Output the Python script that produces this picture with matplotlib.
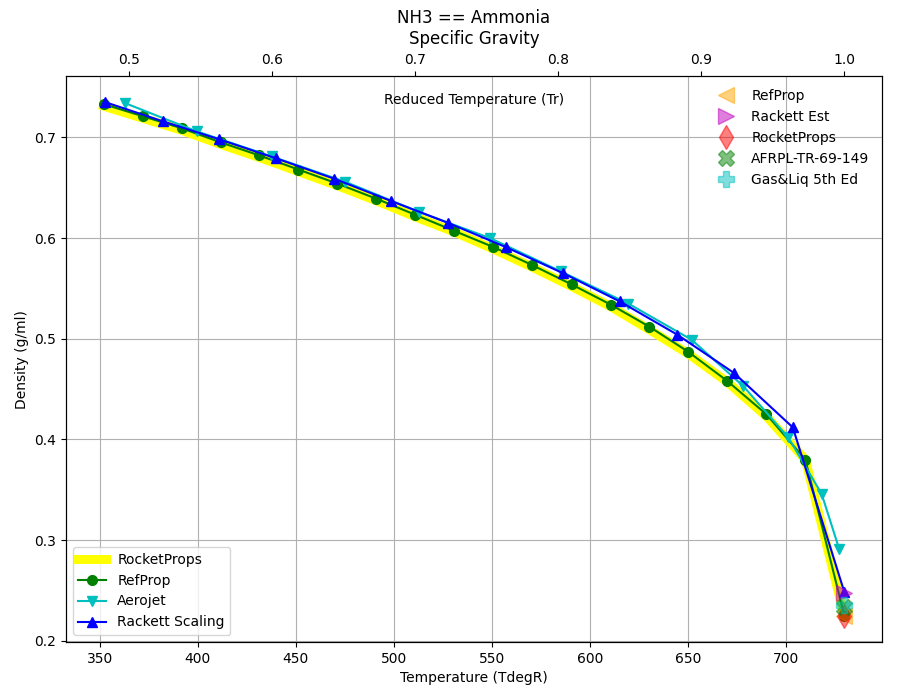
import numpy as np
import matplotlib
matplotlib.use('Agg')
import matplotlib.pyplot as plt
from matplotlib.lines import Line2D

Tc = 729.8  # critical temperature, degR

# RocketProps (thick yellow line)
rp_T = [351.9, 371.8, 391.7, 411.6, 431.4, 451.3, 471.2, 491.1, 511.0, 530.9,
        550.8, 570.7, 590.6, 610.5, 630.3, 650.2, 670.1, 690.0, 709.9, 729.8]
rp_rho = [0.731, 0.719, 0.707, 0.693, 0.680, 0.666, 0.652, 0.637, 0.621, 0.606,
          0.589, 0.571, 0.552, 0.532, 0.509, 0.485, 0.457, 0.423, 0.380, 0.2245]

# RefProp
ref_T = [351.9, 371.8, 391.7, 411.6, 431.4, 451.3, 471.2, 491.1, 511.0, 530.9,
         550.8, 570.7, 590.6, 610.5, 630.3, 650.2, 670.1, 690.0, 709.9, 729.8]
ref_rho = [0.733, 0.721, 0.709, 0.695, 0.682, 0.668, 0.654, 0.639, 0.623, 0.607,
           0.591, 0.573, 0.554, 0.534, 0.512, 0.487, 0.458, 0.425, 0.380, 0.225]

# Aerojet
aj_T = [362.8, 399.3, 437.6, 475.0, 512.6, 549.0, 585.0, 619.5, 651.9,
        678.2, 701.2, 718.2, 727.2]
aj_rho = [0.734, 0.706, 0.681, 0.656, 0.626, 0.600, 0.567, 0.535, 0.499,
          0.453, 0.402, 0.346, 0.291]

# Rackett Scaling
rk_T = [352.6, 382.0, 410.9, 440.1, 469.4, 498.3, 527.7, 557.1, 586.4,
        615.3, 644.6, 673.5, 703.5, 729.7]
rk_rho = [0.735, 0.716, 0.698, 0.679, 0.659, 0.637, 0.615, 0.591, 0.565,
          0.537, 0.504, 0.466, 0.412, 0.249]

# critical point densities
crit_labels = ['RefProp', 'Rackett Est', 'RocketProps', 'AFRPL-TR-69-149', 'Gas&Liq 5th Ed']
crit_rho = [0.225, 0.248, 0.2245, 0.234, 0.236]
crit_markers = ['<', '>', 'd', 'X', 'P']
crit_colors = ['orange', 'm', 'r', 'g', 'c']

fig = plt.figure(figsize=(9, 7), dpi=100)
ax = fig.add_axes([0.0733, 0.083, 0.9067, 0.808])

l1, = ax.plot(rp_T, rp_rho, '-', color='yellow', lw=6.5, label='RocketProps')
l2, = ax.plot(ref_T, ref_rho, 'go-', ms=7, label='RefProp')
l3, = ax.plot(aj_T, aj_rho, 'cv-', ms=7, label='Aerojet')
l4, = ax.plot(rk_T, rk_rho, 'b^-', ms=7, label='Rackett Scaling')

crit_handles = []
for lab, rho, mk, col in zip(crit_labels, crit_rho, crit_markers, crit_colors):
    h, = ax.plot([Tc], [rho], mk, color=col, ms=12, alpha=0.5, label=lab)
    crit_handles.append(h)

ax.set_xlim(332.7, 749.0)
ax.set_ylim(0.199, 0.7606)
ax.grid(True)
ax.set_xlabel('Temperature (TdegR)')
ax.set_ylabel('Density (g/ml)')

leg1 = ax.legend(handles=[l1, l2, l3, l4], loc='lower left')
ax.add_artist(leg1)
ax.legend(handles=crit_handles, loc='upper right', frameon=False, numpoints=1)

ax.text(0.5, 0.958, 'Reduced Temperature (Tr)', transform=ax.transAxes,
        ha='center', va='center')

ax2 = ax.twiny()
x0, x1 = ax.get_xlim()
ax2.set_xlim(x0 / Tc, x1 / Tc)
ax2.set_xticks([0.5, 0.6, 0.7, 0.8, 0.9, 1.0])

ax.set_title('NH3 == Ammonia\nSpecific Gravity')

fig.savefig('out.png', dpi=100)
